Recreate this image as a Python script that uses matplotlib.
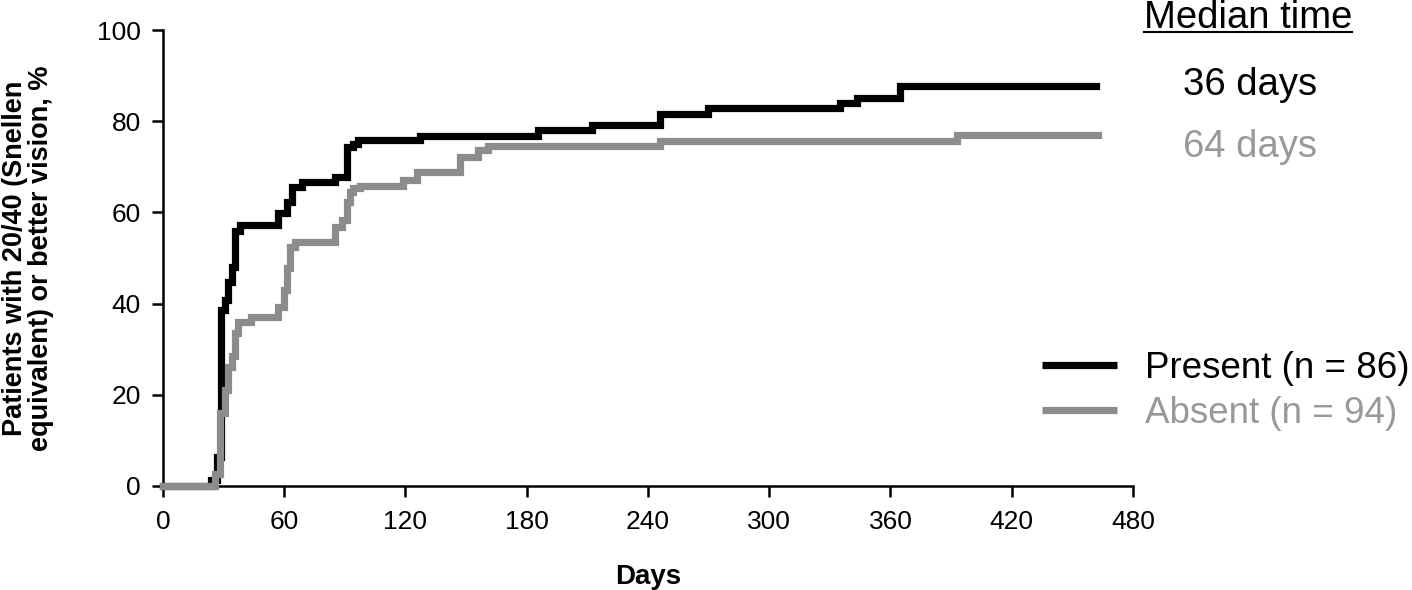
import matplotlib
matplotlib.use('Agg')
import matplotlib.pyplot as plt
from matplotlib.lines import Line2D

plt.rcParams['font.family'] = ['Liberation Sans', 'DejaVu Sans']

# step curves (day, cumulative %)
present_days = [0, 24, 26.6, 28.5, 30.7, 32.3, 34, 35.6, 38, 57.1, 61.2, 63.7, 68.6,
                85.1, 90.9, 94.2, 96.7, 127.2, 185.7, 212.1, 245.9, 269.8, 335,
                343.2, 364.7, 461.6]
present_pct = [0, 1.3, 6.4, 38.6, 40.8, 44.8, 48.1, 56, 57.2, 59.8, 62.3, 65.6, 66.6,
               67.8, 74.4, 75.1, 75.9, 76.8, 78.1, 79.2, 81.5, 82.8, 83.9,
               85.2, 87.8, 87.8]

absent_days = [0, 26, 28.2, 30.7, 32.3, 34, 35.6, 37.3, 43.8, 57.1, 59.8, 61.2, 62.9,
               65.4, 85.1, 88.4, 90.9, 92.5, 94.2, 97.5, 118.9, 125.6, 147.2,
               156, 161, 245.9, 392.7, 462.7]
absent_pct = [0, 2.7, 16, 21, 26.2, 28.4, 33.5, 36, 37.1, 39.3, 43, 47.8, 52.5,
              53.6, 56.9, 58.3, 62.3, 64.5, 65.3, 65.9, 67.2, 68.9, 72.2,
              73.7, 74.6, 75.7, 77, 77]

groups = ['Present (n = 86)', 'Absent (n = 94)']
medians = ['36 days', '64 days']
colors = ['#000000', '#8c8c8c']
text_colors = ['#000000', '#999999']

fig = plt.figure(figsize=(14.12, 5.9), dpi=100)
ax = fig.add_axes([0.1154, 0.1763, 0.687, 0.7728])

ax.step(present_days, present_pct, where='post', color=colors[0], lw=5.2,
        clip_on=False, zorder=3, solid_joinstyle='miter')
ax.step(absent_days, absent_pct, where='post', color=colors[1], lw=5.2,
        clip_on=False, zorder=4, solid_joinstyle='miter')

ax.set_xlim(0, 480)
ax.set_ylim(0, 100)
ax.set_xticks(range(0, 481, 60))
ax.set_yticks(range(0, 101, 20))
for s in ['top', 'right']:
    ax.spines[s].set_visible(False)
for s in ['left', 'bottom']:
    ax.spines[s].set_linewidth(1.8)
ax.tick_params(direction='out', length=8, width=1.8, labelsize=19)
ax.tick_params(axis='x', pad=9)
ax.tick_params(axis='y', pad=8)

ax.set_xlabel('Days', fontsize=20, fontweight='bold', labelpad=22)
ax.set_ylabel('Patients with 20/40 (Snellen\nequivalent) or better vision, %',
              fontsize=19.5, fontweight='bold', linespacing=1.0, va='center')
ax.yaxis.set_label_coords(-0.139, 0.5)

W, H = 1412, 590
def fx(px):
    return px / W
def fy(py):
    return 1 - py / H

# median time block
t = fig.text(fx(1248), fy(28), 'Median time', fontsize=27.5, ha='center', va='baseline')
fig.canvas.draw()
bb = t.get_window_extent()
fig.add_artist(Line2D([bb.x0 / W, bb.x1 / W], [fy(32), fy(32)], color='black', lw=1.5))
fig.text(fx(1250), fy(95), medians[0], fontsize=27.5, ha='center', va='baseline',
         color=text_colors[0])
fig.text(fx(1250), fy(157), medians[1], fontsize=27.5, ha='center', va='baseline',
         color=text_colors[1])

# legend
for i, (name, ly) in enumerate(zip(groups, [365, 410])):
    fig.add_artist(Line2D([fx(1042), fx(1117)], [fy(ly), fy(ly)], color=colors[i],
                          lw=5.2, solid_capstyle='butt'))
    fig.text(fx(1145), fy(ly + 13), name, fontsize=26.5, ha='left', va='baseline',
             color=text_colors[i])

fig.savefig('out.png', dpi=100)
